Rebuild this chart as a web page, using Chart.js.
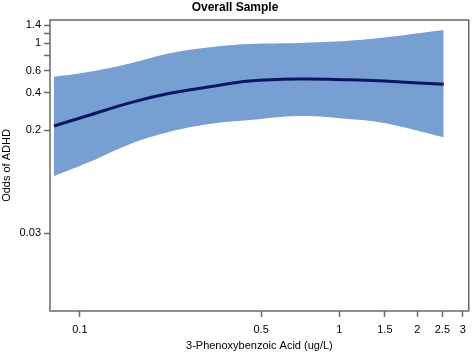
<!DOCTYPE html>
<html>
<head>
<meta charset="utf-8">
<script src="https://cdn.jsdelivr.net/npm/chart.js@4.4.1/dist/chart.umd.min.js"></script>
<style>
  html, body { margin: 0; padding: 0; background: #ffffff; }
  #chartDiv { width: 472px; height: 354px; }
</style>
</head>
<body>
<div id="chartDiv"><canvas id="oddsChart" width="472" height="354"></canvas></div>
<script>
// concentration (ug/L)
var conc      = [0.0794, 0.1093, 0.1557, 0.222, 0.3162, 0.451, 0.701, 1.093, 1.49, 2.53];
// odds estimate and 95% band
var oddsFit   = [0.217, 0.266, 0.333, 0.397, 0.448, 0.498, 0.517, 0.510, 0.498, 0.469];
var oddsUpper = [0.539, 0.591, 0.688, 0.831, 0.929, 0.987, 1.006, 1.049, 1.113, 1.279];
var oddsLower = [0.0859, 0.112, 0.155, 0.195, 0.225, 0.242, 0.261, 0.247, 0.229, 0.176];

var xTicks = [0.1, 0.5, 1, 1.5, 2, 2.5, 3];
var yTicks = [0.03, 0.2, 0.4, 0.6, 0.8, 1, 1.2, 1.4];
var yTickLabels = ['0.03', '0.2', '0.4', '0.6', '', '1', '', '1.4'];

var FONT = "'Liberation Sans', Arial, Helvetica, sans-serif";
var AXIS_GREY = '#6a6a6a';

function toPoints(ys){
    var pts = [];
    for (var i = 0; i < conc.length; i++){
        pts.push({x: conc[i], y: ys[i]});
    }
    return pts;
}

// grey frame round the plot area
var frameBox = {
    id: 'frameBox',
    afterDraw: function(chart){
        var a = chart.chartArea;
        var ctx = chart.ctx;
        ctx.save();
        ctx.strokeStyle = AXIS_GREY;
        ctx.lineWidth = 1.5;
        ctx.strokeRect(a.left, a.top, a.right - a.left, a.bottom - a.top);
        ctx.restore();
    }
};

var ctx = document.getElementById('oddsChart').getContext('2d');
var myChart = new Chart(ctx, {
    type: 'line',
    data: {
        datasets: [
            // drawn last -> on top
            {
                label: 'fit',
                data: toPoints(oddsFit),
                borderWidth: 3,
                borderColor: '#0b1660',
                pointRadius: 0,
                fill: false,
                tension: 0.4
            },
            {
                label: 'lower',
                data: toPoints(oddsLower),
                borderWidth: 0,
                borderColor: 'rgba(0,0,0,0)',
                pointRadius: 0,
                fill: false,
                tension: 0.4
            },
            {
                label: 'upper',
                data: toPoints(oddsUpper),
                borderWidth: 0,
                borderColor: 'rgba(0,0,0,0)',
                backgroundColor: 'rgb(120, 159, 209)',
                pointRadius: 0,
                fill: '-1',
                tension: 0.4
            }
        ]
    },
    options: {
        responsive: false,
        devicePixelRatio: 1,
        animation: false,
        layout: { padding: { left: 0, right: 2, top: 0, bottom: 0 } },
        plugins: {
            legend: { display: false },
            tooltip: { enabled: false },
            title: {
                display: true,
                text: 'Overall Sample',
                color: '#000000',
                font: { family: FONT, size: 12, weight: 'bold' },
                padding: { top: 0, bottom: 5.6 }
            }
        },
        scales: {
            x: {
                type: 'logarithmic',
                min: 0.0767,
                max: 3.16,
                afterBuildTicks: function(scale){
                    scale.ticks = xTicks.map(function(v){ return {value: v}; });
                },
                afterFit: function(scale){ scale.height = 43; },
                ticks: {
                    autoSkip: false,
                    maxRotation: 0,
                    minRotation: 0,
                    padding: 6,
                    color: '#000000',
                    font: { family: FONT, size: 11 },
                    callback: function(value){ return String(value); }
                },
                grid: {
                    display: true,
                    drawOnChartArea: false,
                    drawTicks: true,
                    tickLength: 6,
                    tickColor: AXIS_GREY,
                    tickWidth: 1.5
                },
                border: { display: false },
                title: {
                    display: true,
                    text: '3-Phenoxybenzoic Acid (ug/L)',
                    color: '#000000',
                    font: { family: FONT, size: 11 },
                    padding: { top: 0, bottom: 1 }
                }
            },
            y: {
                type: 'logarithmic',
                min: 0.0071,
                max: 1.54,
                afterBuildTicks: function(scale){
                    scale.ticks = yTicks.map(function(v){ return {value: v}; });
                },
                afterFit: function(scale){ scale.width = 50; },
                ticks: {
                    autoSkip: false,
                    padding: 3,
                    color: '#000000',
                    font: { family: FONT, size: 11 },
                    callback: function(value, index){ return yTickLabels[index]; }
                },
                grid: {
                    display: true,
                    drawOnChartArea: false,
                    drawTicks: true,
                    tickLength: 6,
                    tickColor: AXIS_GREY,
                    tickWidth: 1.5
                },
                border: { display: false },
                title: {
                    display: true,
                    text: 'Odds of ADHD',
                    color: '#000000',
                    font: { family: FONT, size: 11 },
                    padding: { top: 0, bottom: 0 }
                }
            }
        }
    },
    plugins: [frameBox]
});
</script>
</body>
</html>
